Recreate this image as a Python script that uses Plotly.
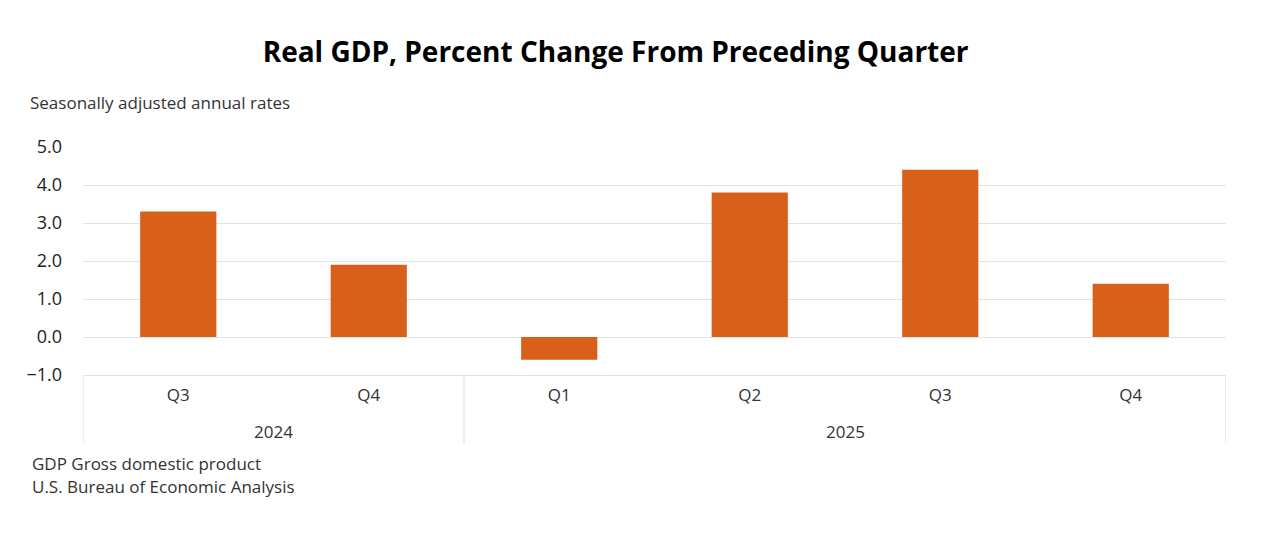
import plotly.graph_objects as go

years = ["2024", "2025"]
year_quarter_counts = [2, 4]
quarters = ["Q3", "Q4", "Q1", "Q2", "Q3", "Q4"]
period_keys = ["2024 Q3", "2024 Q4", "2025 Q1", "2025 Q2", "2025 Q3", "2025 Q4"]
gdp_change = [3.3, 1.9, -0.6, 3.8, 4.4, 1.4]
y_ticks = [-1, 0, 1, 2, 3, 4, 5]
y_tick_labels = ["\u22121.0", "0.0", "1.0", "2.0", "3.0", "4.0", "5.0"]

FONT = "Open Sans"
BAR = "#D9601A"
GRID = "#E3E3E3"
TXT = "#333333"

fig = go.Figure(go.Bar(
    x=period_keys, y=gdp_change,
    marker=dict(color=BAR, line=dict(width=0)),
    hoverinfo="y",
))

fig.update_layout(
    width=1258, height=518,
    margin=dict(l=75, r=40, t=139, b=151),
    paper_bgcolor="white", plot_bgcolor="white",
    bargap=0.6, showlegend=False,
    font=dict(family=FONT, color=TXT, size=16),
    title=dict(text="<b>Real GDP, Percent Change From Preceding Quarter</b>",
               x=0.483, xanchor="center", y=0.915, yanchor="middle",
               font=dict(family=FONT, size=28, color="#000000")),
)
fig.update_yaxes(range=[-1, 5], tickvals=y_ticks, ticktext=y_tick_labels,
                 showgrid=True, gridcolor=GRID, gridwidth=1.3, zeroline=False,
                 showline=False, ticks="", ticklabelstandoff=20,
                 tickfont=dict(family=FONT, size=18, color="#222222"))
fig.update_xaxes(type="category", categoryorder="array", categoryarray=period_keys,
                 tickvals=period_keys, ticktext=quarters,
                 range=[-0.5, len(period_keys) - 0.5],
                 showline=True, linecolor=GRID, linewidth=1.3,
                 ticks="", showgrid=False, ticklabelstandoff=4,
                 tickfont=dict(family=FONT, size=17, color=TXT))

# year group labels and dividers
start = 0
bounds = [-0.5]
for yr, n in zip(years, year_quarter_counts):
    mid = start + (n - 1) / 2
    fig.add_annotation(text=yr, xref="x", yref="paper", x=mid, y=-0.248,
                       xanchor="center", yanchor="middle", showarrow=False,
                       font=dict(family=FONT, size=17, color=TXT))
    start += n
    bounds.append(start - 0.5)
for b in bounds:
    fig.add_shape(type="line", xref="x", yref="paper", x0=b, x1=b, y0=0, y1=-0.298,
                  line=dict(color=GRID, width=1.3))

fig.add_annotation(text="Seasonally adjusted annual rates", xref="paper", yref="paper",
                   x=-0.0481, y=1.193, xanchor="left", yanchor="middle", showarrow=False,
                   font=dict(family=FONT, size=17, color=TXT))
fig.add_annotation(text="GDP Gross domestic product", xref="paper", yref="paper",
                   x=-0.0461, y=-0.386, xanchor="left", yanchor="middle", showarrow=False,
                   font=dict(family=FONT, size=17, color=TXT))
fig.add_annotation(text="U.S. Bureau of Economic Analysis", xref="paper", yref="paper",
                   x=-0.0461, y=-0.491, xanchor="left", yanchor="middle", showarrow=False,
                   font=dict(family=FONT, size=17, color=TXT))

fig.write_html("out.html")
